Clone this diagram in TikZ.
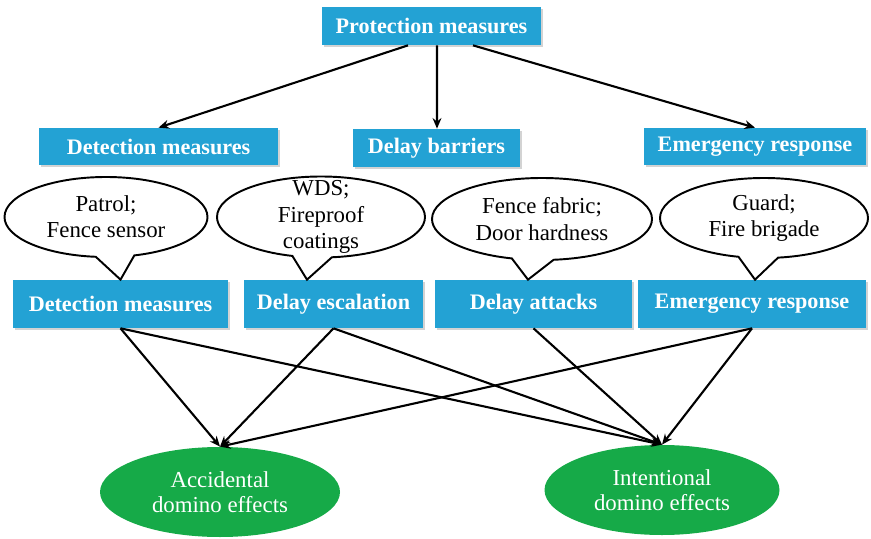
\documentclass[tikz,border=0pt]{standalone}
\usepackage{fontspec}
\setmainfont{Liberation Serif}
\usetikzlibrary{shapes.geometric,shapes.callouts,arrows.meta,shadows,calc}
\definecolor{boxblue}{RGB}{35,162,212}
\definecolor{domgreen}{RGB}{22,170,72}

\begin{document}
\begin{tikzpicture}[
  measure/.style={fill=boxblue,text=white,inner sep=0pt,font=\fontsize{12.6}{14}\selectfont\bfseries,
    drop shadow={shadow xshift=1.2pt,shadow yshift=-1.2pt,opacity=0.35}},
  bubble/.style={draw,line width=1.1pt,ellipse callout,callout pointer arc=22,inner sep=0pt},
  bubtext/.style={align=center,font=\fontsize{13}{15}\selectfont},
  effect/.style={ellipse,fill=domgreen,text=white,align=center,inner sep=0pt,font=\fontsize{13}{14.5}\selectfont},
  link/.style={line width=1.2pt,-{Stealth[length=6pt,width=5pt]}}
]
  \useasboundingbox (0,0) rectangle (17.42,-10.78);
  \node [measure,minimum width=4.38cm,minimum height=0.76cm] (prot) at (8.63,-0.52) {Protection measures};
  \node [measure,minimum width=4.78cm,minimum height=0.74cm] (det1) at (3.17,-2.93) {Detection measures};
  \node [measure,minimum width=3.34cm,minimum height=0.76cm] (bar) at (8.73,-2.96) {Delay barriers};
  \node [measure,minimum width=4.44cm,minimum height=0.74cm] (emr1) at (15.10,-2.93) {Emergency response};
  \node [measure,minimum width=4.30cm,minimum height=0.96cm] (det2) at (2.41,-6.08) {Detection measures};
  \node [measure,minimum width=3.58cm,minimum height=0.96cm] (esc) at (6.67,-6.08) {Delay escalation};
  \node [measure,minimum width=3.94cm,minimum height=0.96cm] (att) at (10.67,-6.08) {Delay attacks};
  \node [measure,minimum width=4.56cm,minimum height=0.96cm] (emr2) at (15.04,-6.08) {Emergency response};
  \node [bubble,minimum width=4.06cm,minimum height=1.60cm,callout absolute pointer={(det2.north)}] (c1) at (2.12,-4.34) {};
  \node [bubble,minimum width=4.16cm,minimum height=1.62cm,callout absolute pointer={($(esc.north)+(-0.53,0)$)}] (c2) at (6.42,-4.34) {};
  \node [bubble,minimum width=4.40cm,minimum height=1.64cm,callout absolute pointer={($(att.north)+(-0.11,0)$)}] (c3) at (10.84,-4.38) {};
  \node [bubble,minimum width=4.16cm,minimum height=1.60cm,callout absolute pointer={($(emr2.north)+(0.06,0)$)}] (c4) at (15.28,-4.36) {};
  \node [bubtext] (t1) at (c1) {Patrol;\\Fence sensor};
  \node [bubtext] (t2) at (c2) {WDS;\\Fireproof\\coatings};
  \node [bubtext] (t3) at (c3) {Fence fabric;\\Door hardness};
  \node [bubtext] (t4) at (c4) {Guard;\\Fire brigade};
  \node [effect,minimum width=4.8cm,minimum height=1.8cm] (acc) at (4.40,-9.84) {Accidental\\domino effects};
  \node [effect,minimum width=4.7cm,minimum height=1.8cm] (int) at (13.24,-9.80) {Intentional\\domino effects};
  \draw [link] ($(prot.south)+(-0.47,0)$) -- (det1.north);
  \draw [link] ($(prot.south)+(0.11,0)$) -- ($(bar.north)+(0.01,0)$);
  \draw [link] ($(prot.south)+(0.83,0)$) -- (emr1.north);
  \draw [link] (det2.south) -- (acc.north);
  \draw [link] (det2.south) -- (int.north);
  \draw [link] (esc.south) -- (acc.north);
  \draw [link] (esc.south) -- (int.north);
  \draw [link] (att.south) -- (int.north);
  \draw [link] (emr2.south) -- (acc.north);
  \draw [link] (emr2.south) -- (int.north);
\end{tikzpicture}
\end{document}
